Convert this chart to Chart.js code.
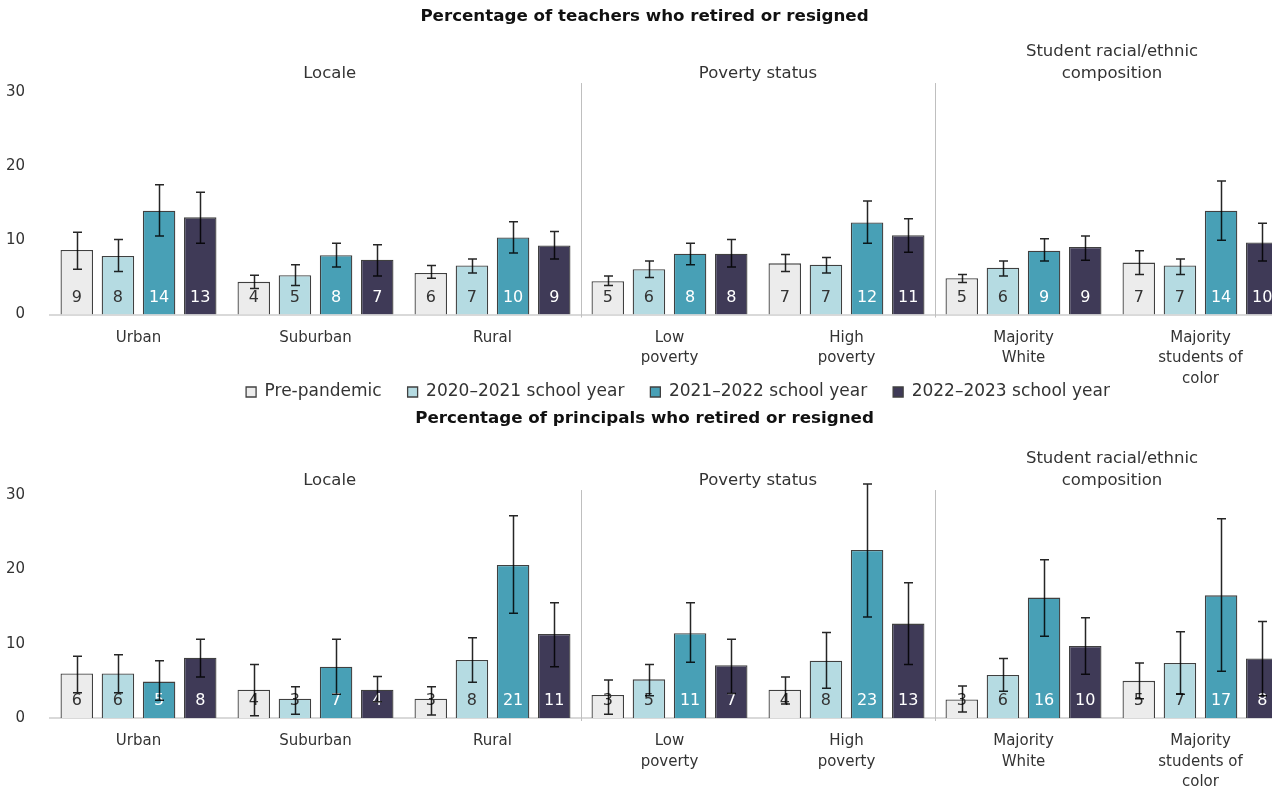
<!DOCTYPE html>
<html>
<head>
<meta charset="utf-8">
<title>Teachers and principals who retired or resigned</title>
<script src="https://cdn.jsdelivr.net/npm/chart.js@4.4.1/dist/chart.umd.min.js"></script>
<style>
  html, body { margin: 0; padding: 0; background: #ffffff; }
  #frame { width: 1272px; height: 789px; overflow: hidden; position: relative; }
  canvas { display: block; }
</style>
</head>
<body>
<div id="frame">
  <canvas id="teachers" width="1313" height="409"></canvas>
  <canvas id="principals" width="1313" height="380"></canvas>
</div>
<script>
// ---- categories and series ----
const categories = [
  ['Urban'], ['Suburban'], ['Rural'],
  ['Low', 'poverty'], ['High', 'poverty'],
  ['Majority', 'White'], ['Majority', 'students of', 'color']
];
const seriesNames = ['Pre-pandemic', '2020\u20132021 school year', '2021\u20132022 school year', '2022\u20132023 school year'];
const yTicks = [0, 10, 20, 30];

// ---- teachers: percentage who retired or resigned ----
const teacherPrePandemic = [8.7, 4.4, 5.6, 4.5, 6.9, 4.9, 7.0];
const teacher2021 = [7.9, 5.3, 6.6, 6.1, 6.7, 6.3, 6.6];
const teacher2022 = [14.0, 8.0, 10.4, 8.2, 12.4, 8.6, 14.0];
const teacher2023 = [13.1, 7.4, 9.3, 8.2, 10.7, 9.1, 9.7];
// confidence interval bounds, one row per series
const teacherCiLow = [
  [6.1, 3.5, 4.9, 3.9, 5.8, 4.3, 5.4],
  [5.8, 3.9, 5.6, 5.0, 5.6, 5.2, 5.4],
  [10.6, 6.4, 8.3, 6.7, 9.6, 7.2, 10.0],
  [9.6, 5.2, 7.5, 6.4, 8.4, 7.3, 7.2]
];
const teacherCiHigh = [
  [11.1, 5.3, 6.6, 5.2, 8.1, 5.4, 8.6],
  [10.1, 6.7, 7.5, 7.2, 7.7, 7.2, 7.5],
  [17.5, 9.6, 12.5, 9.6, 15.3, 10.2, 18.0],
  [16.5, 9.4, 11.2, 10.1, 12.9, 10.6, 12.3]
];

// ---- principals: percentage who retired or resigned ----
const principalPrePandemic = [6.0, 3.8, 2.6, 3.1, 3.8, 2.5, 5.0];
const principal2021 = [6.0, 2.6, 7.8, 5.2, 7.7, 5.8, 7.4];
const principal2022 = [4.9, 6.9, 20.6, 11.4, 22.6, 16.2, 16.5];
const principal2023 = [8.1, 3.8, 11.3, 7.1, 12.7, 9.7, 8.0];
const principalCiLow = [
  [3.4, 0.3, 0.4, 0.5, 1.9, 0.8, 2.6],
  [3.4, 0.5, 4.8, 3.0, 4.0, 3.6, 3.2],
  [2.4, 3.2, 14.1, 7.5, 13.6, 11.0, 6.3],
  [5.5, 2.2, 6.9, 3.3, 7.2, 5.9, 3.0]
];
const principalCiHigh = [
  [8.3, 7.2, 4.2, 5.1, 5.5, 4.3, 7.4],
  [8.5, 4.2, 10.8, 7.2, 11.5, 8.0, 11.6],
  [7.7, 10.6, 27.2, 15.5, 31.5, 21.3, 26.8],
  [10.6, 5.6, 15.5, 10.6, 18.2, 13.5, 13.0]
];

// ---- group headings above the category clusters ----
const groupHeaders = [
  { lines: ['Locale'], at: 1.08 },
  { lines: ['Poverty status'], at: 3.5 },
  { lines: ['Student racial/ethnic', 'composition'], at: 5.5 }
];
const groupBreaks = [2.5, 4.5];

// ---- styling ----
const seriesFill = ['#ececec', '#b5dbe2', '#48a0b6', '#3f3a57'];
const valueLabelColor = ['#333333', '#333333', '#ffffff', '#ffffff'];
const FONT = "'DejaVu Sans', 'Liberation Sans', sans-serif";

Chart.defaults.font.family = FONT;
Chart.defaults.color = '#333333';

// separators, group headings, value labels and error bars for one panel
function panelDecor(o) {
  return {
    id: 'panelDecor',
    afterLayout(chart) {
      // the legend row sits beside the last wrapped category label
      const lg = chart.legend;
      if (o.legend && lg) {
        lg.top = o.legendTop;
        lg.bottom = o.legendBottom;
        lg.height = o.legendBottom - o.legendTop;
        lg.left += o.legendShift;
        lg.right += o.legendShift;
      }
    },
    beforeDatasetsDraw(chart) {
      const { ctx, chartArea, scales: { x } } = chart;
      ctx.save();
      ctx.strokeStyle = '#bfbfbf';
      ctx.lineWidth = 1;
      groupBreaks.forEach(b => {
        const px = Math.round(x.getPixelForValue(b)) + 0.5;
        ctx.beginPath();
        ctx.moveTo(px, chartArea.top - o.sepRise);
        ctx.lineTo(px, chartArea.bottom + 3);
        ctx.stroke();
      });
      ctx.restore();
    },
    afterDatasetsDraw(chart) {
      const { ctx, scales: { y } } = chart;
      const base = y.getPixelForValue(0);
      ctx.save();
      // rounded value near the foot of each bar
      ctx.font = '16px ' + FONT;
      ctx.textAlign = 'center';
      ctx.textBaseline = 'middle';
      chart.data.datasets.forEach((ds, di) => {
        chart.getDatasetMeta(di).data.forEach((bar, i) => {
          ctx.fillStyle = valueLabelColor[di];
          ctx.fillText(String(Math.round(ds.data[i])), bar.x, base - 17);
        });
      });
      // error bars
      ctx.strokeStyle = 'rgba(0,0,0,0.85)';
      ctx.lineWidth = 1.5;
      chart.data.datasets.forEach((ds, di) => {
        chart.getDatasetMeta(di).data.forEach((bar, i) => {
          const lo = y.getPixelForValue(o.ciLow[di][i]);
          const hi = y.getPixelForValue(o.ciHigh[di][i]);
          const cx = Math.round(bar.x) + 0.5;
          ctx.beginPath();
          ctx.moveTo(cx, lo); ctx.lineTo(cx, hi);
          ctx.moveTo(cx - 4.5, lo); ctx.lineTo(cx + 4.5, lo);
          ctx.moveTo(cx - 4.5, hi); ctx.lineTo(cx + 4.5, hi);
          ctx.stroke();
        });
      });
      ctx.restore();
    },
    afterDraw(chart) {
      const { ctx, chartArea, scales: { x } } = chart;
      ctx.save();
      ctx.font = '16.5px ' + FONT;
      ctx.fillStyle = '#333333';
      ctx.textAlign = 'center';
      ctx.textBaseline = 'middle';
      groupHeaders.forEach(h => {
        const cx = x.getPixelForValue(h.at);
        const last = chartArea.top - o.headerGap;
        h.lines.forEach((line, k) => {
          ctx.fillText(line, cx, last - (h.lines.length - 1 - k) * 22);
        });
      });
      ctx.restore();
    }
  };
}

function buildPanel(canvasId, o) {
  const datasets = seriesNames.map((name, i) => ({
    label: name,
    data: o.values[i],
    backgroundColor: seriesFill[i],
    borderColor: '#404040',
    borderWidth: 1.3,
    categoryPercentage: 0.93,
    barPercentage: 0.79
  }));
  return new Chart(document.getElementById(canvasId), {
    type: 'bar',
    data: { labels: categories, datasets },
    options: {
      responsive: false,
      animation: false,
      devicePixelRatio: 1,
      layout: { padding: { left: 0, right: 24, top: 0, bottom: 0 } },
      plugins: {
        title: {
          display: true,
          text: o.title,
          color: '#111111',
          font: { size: 16.7, weight: 'bold', lineHeight: 1.2 },
          padding: { top: o.titleTop, bottom: o.titleBottom }
        },
        legend: o.legend ? {
          display: true,
          position: 'bottom',
          fullSize: false,
          maxHeight: o.legendHeight,
          labels: { boxWidth: 10, boxHeight: 10, padding: 26, color: '#333333', font: { size: 17 } }
        } : { display: false },
        tooltip: { enabled: false }
      },
      scales: {
        x: {
          grid: { display: false },
          border: { display: true, color: '#d9d9d9', width: 2 },
          ticks: { color: '#333333', font: { size: 15, lineHeight: 1.37 }, padding: 5, maxRotation: 0, autoSkip: false },
          afterFit: s => { s.height = o.xAxisHeight; }
        },
        y: {
          min: yTicks[0],
          max: yTicks[yTicks.length - 1],
          afterBuildTicks: s => { s.ticks = yTicks.map(v => ({ value: v })); },
          ticks: { color: '#333333', font: { size: 15 }, padding: 17 },
          grid: { display: false },
          border: { display: false },
          afterFit: s => { s.width = 50; }
        }
      }
    },
    plugins: [panelDecor(o)]
  });
}

buildPanel('teachers', {
  title: 'Percentage of teachers who retired or resigned',
  values: [teacherPrePandemic, teacher2021, teacher2022, teacher2023],
  ciLow: teacherCiLow,
  ciHigh: teacherCiHigh,
  titleTop: 7,
  titleBottom: 65,
  xAxisHeight: 76,
  legend: true,
  legendHeight: 18.5,
  legendTop: 357.5,
  legendBottom: 409,
  legendShift: 8.5,
  headerGap: 18,
  sepRise: 9
});

buildPanel('principals', {
  title: 'Percentage of principals who retired or resigned',
  values: [principalPrePandemic, principal2021, principal2022, principal2023],
  ciLow: principalCiLow,
  ciHigh: principalCiHigh,
  titleTop: 0,
  titleBottom: 66,
  xAxisHeight: 71,
  legend: false,
  headerGap: 14,
  sepRise: 5
});
</script>
</body>
</html>
